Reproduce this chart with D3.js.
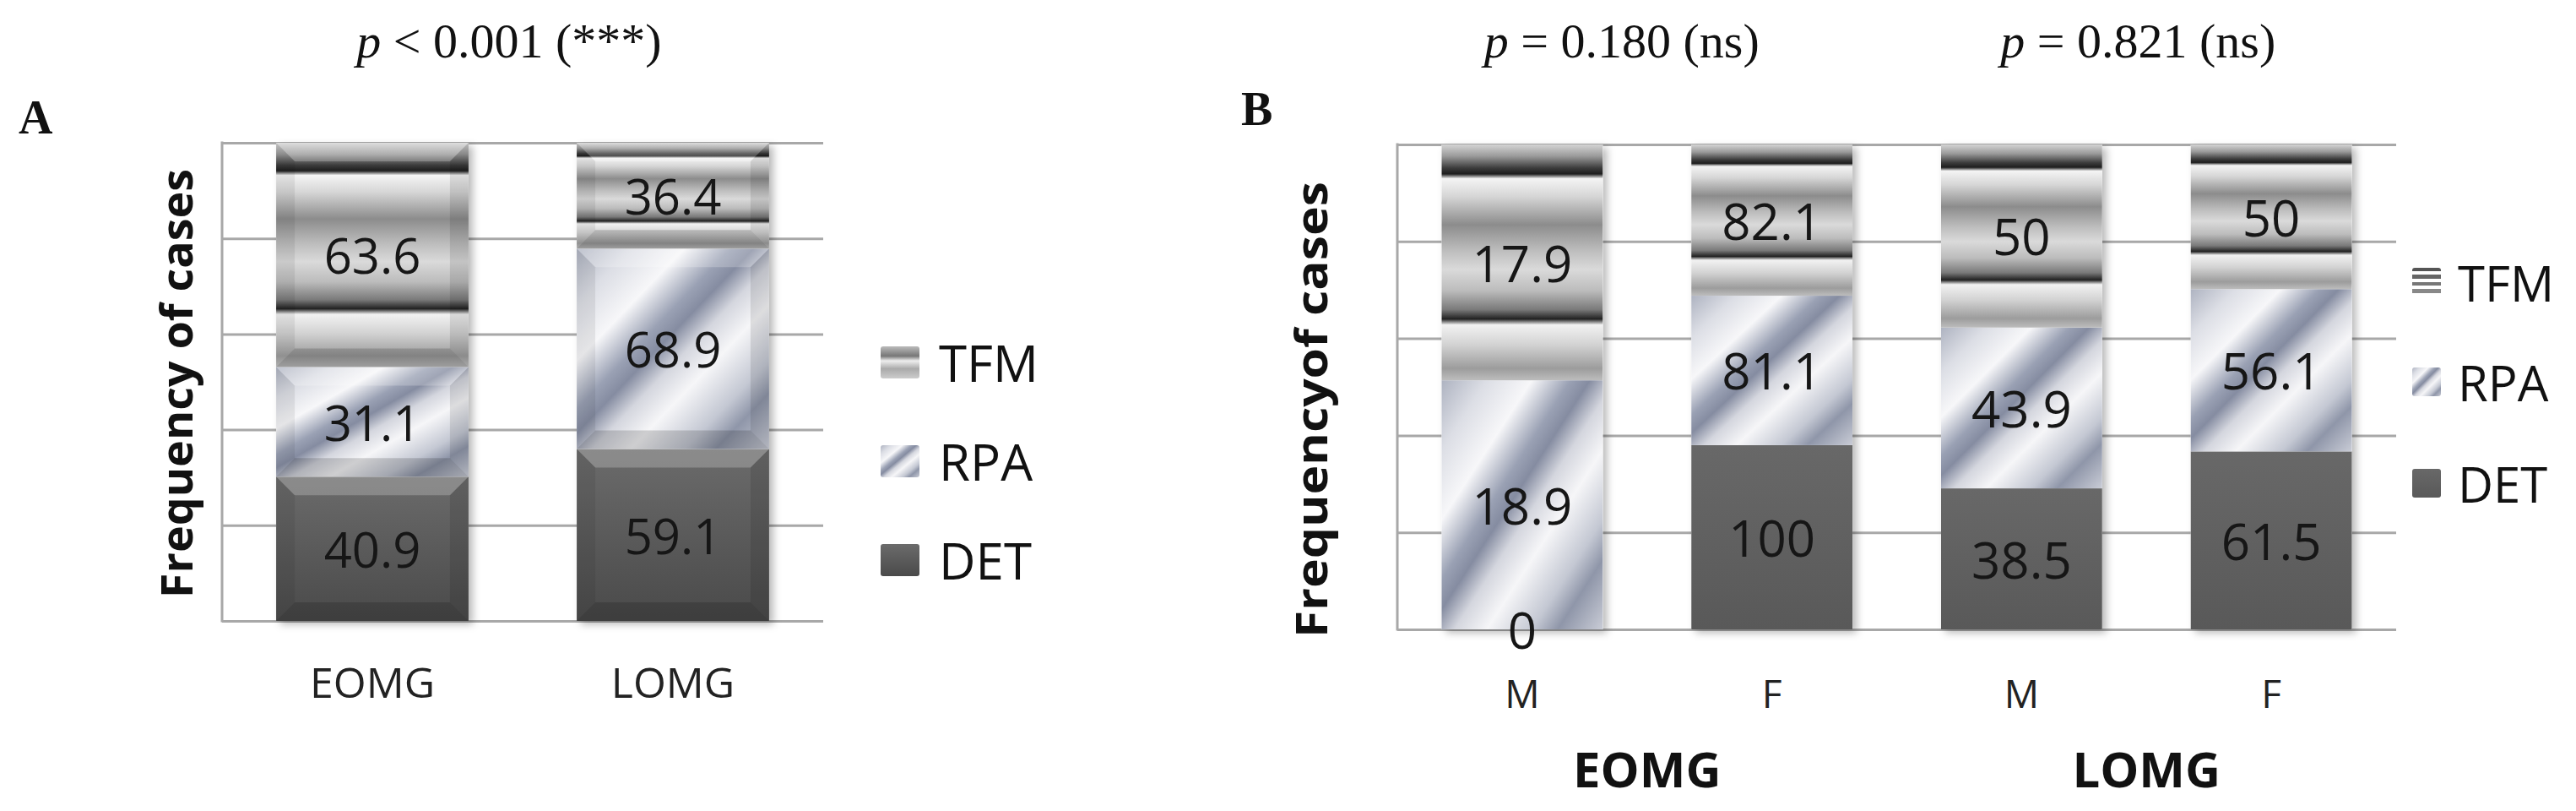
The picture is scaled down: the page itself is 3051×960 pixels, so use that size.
<!DOCTYPE html>
<html><head><meta charset="utf-8">
<script src="https://cdn.jsdelivr.net/npm/d3@7/dist/d3.min.js"></script>
<style>body{margin:0;background:#fff} svg{display:block}</style>
</head><body>
<svg id="chart" width="3051" height="960"></svg>
<script>
// ---------------- data ----------------
const seriesKeys = ["DET", "RPA", "TFM"];
const legendKeys = ["TFM", "RPA", "DET"];
const gridTicks = [0, 20, 40, 60, 80, 100];

// Panel A
const catsA = ["EOMG", "LOMG"];
const detA = [40.9, 59.1];
const rpaA = [31.1, 68.9];
const tfmA = [63.6, 36.4];
const pTitleA = ["p", " < 0.001 (***)"];

// Panel B
const catsB = ["M", "F", "M", "F"];
const groupsB = ["EOMG", "LOMG"];
const detB = [0, 100, 38.5, 61.5];
const rpaB = [18.9, 81.1, 43.9, 56.1];
const tfmB = [17.9, 82.1, 50, 50];
const pTitlesB = [["p", " = 0.180 (ns)"], ["p", " = 0.821 (ns)"]];

const yTitleA = "Frequency of cases";
const yTitleB = "Frequencyof cases";

// ---------------- setup ----------------
const SANS = "'Open Sans', 'Noto Sans', sans-serif";
const SERIF = "'Liberation Serif', 'Times New Roman', serif";
const svg = d3.select("#chart");
const defs = svg.append("defs");

function addLinear(id, attrs, stops) {
  const g = defs.append("linearGradient").attr("id", id);
  Object.entries(attrs).forEach(([k, v]) => g.attr(k, v));
  stops.forEach(([o, c]) => g.append("stop").attr("offset", o).attr("stop-color", c));
}
addLinear("gTFM", {x1: 0, y1: 0, x2: 0, y2: 1}, [
  [0.00, "#d4d4d4"], [0.05, "#9a9a9a"], [0.10, "#3c3c3c"], [0.125, "#1e1e1e"],
  [0.145, "#f4f4f4"], [0.22, "#d6d6d6"], [0.34, "#8c8c8c"], [0.45, "#bdbdbd"],
  [0.53, "#dadada"], [0.62, "#bcbcbc"], [0.70, "#7a7a7a"], [0.74, "#222222"],
  [0.765, "#f2f2f2"], [0.85, "#d2d2d2"], [0.95, "#9c9c9c"], [1.00, "#bdbdbd"]
]);
addLinear("gRPA", {x1: 0, y1: 0, x2: 1, y2: 1}, [
  [0.00, "#aeb3c1"], [0.14, "#dcdee5"], [0.28, "#f7f7f9"], [0.40, "#9aa1b4"],
  [0.46, "#858ca1"], [0.54, "#d4d6de"], [0.64, "#f6f6f8"], [0.78, "#c4c8d3"],
  [0.86, "#8f96a9"], [1.00, "#c9ccd6"]
]);
addLinear("gDETA", {x1: 0, y1: 0, x2: 0, y2: 1}, [[0, "#6b6b6b"], [1, "#4a4a4a"]]);
addLinear("gDETB", {x1: 0, y1: 0, x2: 0, y2: 1}, [[0, "#686868"], [1, "#595959"]]);
addLinear("gTFMleg", {x1: 0, y1: 0, x2: 0, y2: 1}, [
  [0, "#555"], [0.12, "#555"], [0.12, "#fff"], [0.25, "#fff"], [0.25, "#666"], [0.37, "#666"],
  [0.37, "#fff"], [0.5, "#fff"], [0.5, "#777"], [0.62, "#777"], [0.62, "#fff"], [0.75, "#fff"],
  [0.75, "#888"], [0.87, "#888"], [0.87, "#fff"], [1, "#fff"]
]);
addLinear("gTFMlegA", {x1: 0, y1: 0, x2: 0, y2: 1}, [
  [0, "#bbb"], [0.3, "#777"], [0.45, "#eee"], [0.7, "#aaa"], [1, "#ccc"]
]);
const flt = defs.append("filter").attr("id", "shadow")
  .attr("x", "-10%").attr("y", "-5%").attr("width", "130%").attr("height", "115%");
flt.append("feDropShadow").attr("dx", 5).attr("dy", 4).attr("stdDeviation", 5)
  .attr("flood-color", "#000").attr("flood-opacity", 0.28);

function pTitle(parts, cx, baseY) {
  const t = svg.append("text").attr("x", cx).attr("y", baseY).attr("text-anchor", "middle")
    .attr("font-family", SERIF).attr("font-size", 58).attr("fill", "#111");
  t.append("tspan").attr("font-style", "italic").text(parts[0]);
  t.append("tspan").text(parts[1]);
}

function panel(cfg) {
  const {rows, x0, x1, yTop, yBot, pad, bevel, detFill, labelSize} = cfg;
  const fills = {DET: detFill, RPA: "url(#gRPA)", TFM: "url(#gTFM)"};
  const x = d3.scaleBand().domain(rows.map(r => r.id)).range([x0, x1])
    .paddingInner(pad).paddingOuter(pad / 2);
  const y = d3.scaleLinear().domain([0, 1]).range([yBot, yTop]);
  const g = svg.append("g");

  const grid = g.append("g").attr("transform", `translate(${x0},0)`)
    .call(d3.axisLeft(y).tickValues(gridTicks.map(t => t / 100)).tickSize(-(x1 - x0)).tickFormat(""));
  grid.select(".domain").remove();
  grid.selectAll("line").attr("stroke", "#a8a8a8").attr("stroke-width", 3);
  g.append("line").attr("x1", x0).attr("x2", x0).attr("y1", yTop - 1.5).attr("y2", yBot + 1.5)
    .attr("stroke", "#a8a8a8").attr("stroke-width", 3);

  const stacked = d3.stack().keys(seriesKeys).offset(d3.stackOffsetExpand)(rows);

  g.append("g").selectAll("rect").data(rows).join("rect")
    .attr("x", d => x(d.id)).attr("width", x.bandwidth())
    .attr("y", y(1)).attr("height", y(0) - y(1))
    .attr("fill", "#fff").attr("filter", "url(#shadow)");

  const segs = [];
  stacked.forEach(layer => layer.forEach(d => segs.push({key: layer.key, d})));

  g.append("g").selectAll("rect").data(segs).join("rect")
    .attr("x", s => x(s.d.data.id)).attr("width", x.bandwidth())
    .attr("y", s => y(s.d[1])).attr("height", s => y(s.d[0]) - y(s.d[1]))
    .attr("fill", s => fills[s.key]);

  if (bevel) {
    const b = 22;
    const bg = g.append("g");
    segs.filter(s => y(s.d[0]) - y(s.d[1]) > 2 * b).forEach(s => {
      const xa = x(s.d.data.id), xb = xa + x.bandwidth();
      const ya = y(s.d[1]), yb = y(s.d[0]);
      bg.append("polygon").attr("points", [[xa, ya], [xb, ya], [xb - b, ya + b], [xa + b, ya + b]].join(" "))
        .attr("fill", "#fff").attr("opacity", 0.22);
      bg.append("polygon").attr("points", [[xa, yb], [xb, yb], [xb - b, yb - b], [xa + b, yb - b]].join(" "))
        .attr("fill", "#000").attr("opacity", 0.16);
      bg.append("polygon").attr("points", [[xa, ya], [xa + b, ya + b], [xa + b, yb - b], [xa, yb]].join(" "))
        .attr("fill", "#000").attr("opacity", 0.07);
      bg.append("polygon").attr("points", [[xb, ya], [xb - b, ya + b], [xb - b, yb - b], [xb, yb]].join(" "))
        .attr("fill", "#000").attr("opacity", 0.1);
    });
  }

  g.append("g").selectAll("text").data(segs).join("text")
    .attr("x", s => x(s.d.data.id) + x.bandwidth() / 2)
    .attr("y", s => (y(s.d[0]) + y(s.d[1])) / 2)
    .attr("text-anchor", "middle").attr("dominant-baseline", "central")
    .attr("font-family", SANS).attr("font-size", labelSize).attr("fill", "#161616")
    .text(s => s.d.data[s.key]);
  return {x, y, g};
}

function legend(lx, tx, ys, sw, sh, fills, fontSize) {
  const g = svg.append("g");
  legendKeys.forEach((k, i) => {
    g.append("rect").attr("x", lx).attr("y", ys[i] - sh / 2).attr("width", sw).attr("height", sh)
      .attr("rx", 3).attr("fill", fills[k]);
    g.append("text").attr("x", tx).attr("y", ys[i]).attr("dominant-baseline", "central")
      .attr("font-family", SANS).attr("font-size", fontSize).attr("fill", "#111").text(k);
  });
}

function yTitle(text, bx, cy, len) {
  svg.append("text").attr("transform", `translate(${bx},${cy}) rotate(-90)`)
    .attr("text-anchor", "middle").attr("font-family", SANS).attr("font-weight", 700)
    .attr("font-size", 52).attr("fill", "#111")
    .attr("textLength", len).attr("lengthAdjust", "spacingAndGlyphs").text(text);
}

// ---------------- Panel A ----------------
const rowsA = catsA.map((c, i) => ({id: c, DET: detA[i], RPA: rpaA[i], TFM: tfmA[i]}));
const pA = panel({rows: rowsA, x0: 263, x1: 975, yTop: 169, yBot: 735, pad: 0.36,
  bevel: true, detFill: "url(#gDETA)", labelSize: 58});
const axA = svg.append("g").attr("transform", "translate(0,826)")
  .call(d3.axisBottom(pA.x).tickSize(0));
axA.select(".domain").remove();
axA.selectAll("text").attr("y", 0).attr("dy", 0).attr("font-family", SANS)
  .attr("font-size", 50).attr("fill", "#222");
pTitle(pTitleA, 603, 68);
svg.append("text").attr("x", 22).attr("y", 158).attr("font-family", SERIF).attr("font-weight", 700)
  .attr("font-size", 56).attr("fill", "#111").text("A");
yTitle(yTitleA, 228, 454, 508);
legend(1043, 1112, [429, 546, 663], 46, 38,
  {TFM: "url(#gTFMlegA)", RPA: "url(#gRPA)", DET: "url(#gDETA)"}, 60);

// ---------------- Panel B ----------------
const rowsB = catsB.map((c, i) => ({id: String(i), DET: detB[i], RPA: rpaB[i], TFM: tfmB[i]}));
const pB = panel({rows: rowsB, x0: 1655, x1: 2838, yTop: 171, yBot: 745, pad: 0.355,
  bevel: false, detFill: "url(#gDETB)", labelSize: 60});
const axB = svg.append("g").attr("transform", "translate(0,838)")
  .call(d3.axisBottom(pB.x).tickSize(0).tickFormat(i => catsB[+i]));
axB.select(".domain").remove();
axB.selectAll("text").attr("y", 0).attr("dy", 0).attr("font-family", SANS)
  .attr("font-size", 46).attr("fill", "#222");
groupsB.forEach((gname, gi) => {
  const a = pB.x(String(gi * 2)), b = pB.x(String(gi * 2 + 1)) + pB.x.bandwidth();
  const cx = (a + b) / 2;
  svg.append("text").attr("x", cx).attr("y", 932).attr("text-anchor", "middle")
    .attr("font-family", SANS).attr("font-weight", 700).attr("font-size", 58).attr("fill", "#111")
    .text(gname);
  pTitle(pTitlesB[gi], cx - 30 + gi * 20, 68);
});
svg.append("text").attr("x", 1470).attr("y", 148).attr("font-family", SERIF).attr("font-weight", 700)
  .attr("font-size", 56).attr("fill", "#111").text("B");
yTitle(yTitleB, 1572, 485, 540);
legend(2857, 2911, [334, 452, 572], 34, 34,
  {TFM: "url(#gTFMleg)", RPA: "url(#gRPA)", DET: "url(#gDETB)"}, 58);
</script>
</body></html>
